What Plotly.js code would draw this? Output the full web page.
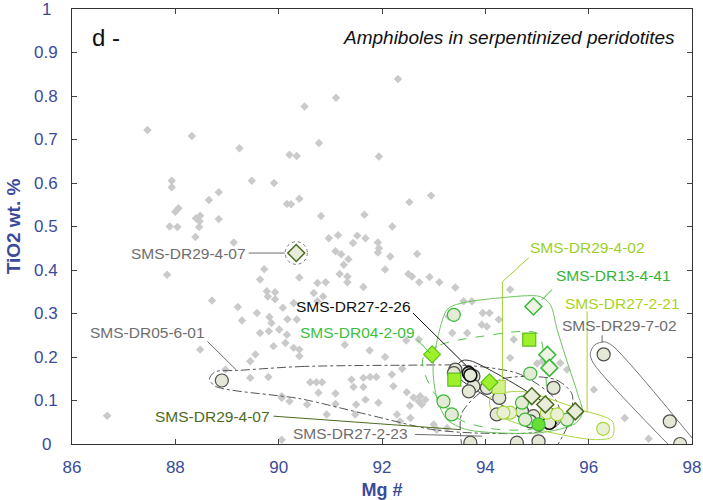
<!DOCTYPE html>
<html>
<head>
<meta charset="utf-8">
<script src="https://cdn.plot.ly/plotly-3.0.1.min.js"></script>
<style>
  html, body { margin: 0; padding: 0; background: #ffffff; }
  #chart { width: 703px; height: 500px; }
</style>
</head>
<body>
<div id="chart"></div>
<script>
// Background amphibole compilation (grey diamonds)
const bgMg = [92.31,91.11,90.50,87.46,88.32,89.24,90.78,90.21,90.35,91.94,87.93,87.93,89.48,89.91,88.84,88.65,90.16,90.24,90.40,92.53,
  92.95,88.06,88.00,88.40,88.48,88.84,87.89,88.04,88.46,88.47,90.82,91.66,92.20,88.39,89.13,90.97,91.15,91.52,91.68,91.44,
  91.92,91.94,91.92,91.10,91.21,91.35,92.16,92.68,91.26,87.84,89.72,89.64,90.40,91.18,91.33,91.33,92.06,92.51,92.58,92.72,
  92.92,93.11,93.42,90.75,90.91,89.77,89.93,89.79,89.93,90.68,90.86,90.75,91.64,88.71,89.21,90.08,90.29,89.58,89.82,89.86,
  90.17,90.35,89.29,89.64,89.81,90.01,90.16,88.48,89.90,90.13,90.29,90.40,90.40,91.28,91.76,89.55,92.47,92.71,88.97,89.45,
  89.45,89.80,90.61,90.73,90.84,90.77,91.10,91.41,91.64,91.77,91.89,91.64,91.45,92.19,92.39,92.22,92.48,92.61,92.71,92.77,
  92.84,92.54,92.74,91.93,91.68,91.50,91.48,91.10,90.93,90.55,90.06,90.21,92.29,92.35,92.55,86.68,93.00,93.06,93.26,93.29,
  93.58,93.74,93.65,94.48,93.95,94.08,94.26,93.93,94.03,93.36,94.55,94.48,95.00,95.10,95.30,95.45,95.58,96.10,92.06,90.06,
  90.06,96.70,97.16];
const bgTi = [0.839,0.796,0.776,0.722,0.708,0.680,0.692,0.665,0.662,0.661,0.605,0.590,0.605,0.600,0.579,0.561,0.552,0.551,0.564,0.556,
  0.571,0.542,0.534,0.519,0.525,0.517,0.500,0.499,0.499,0.512,0.524,0.527,0.500,0.476,0.463,0.473,0.480,0.479,0.473,0.462,
  0.463,0.450,0.440,0.443,0.436,0.425,0.431,0.437,0.412,0.389,0.402,0.378,0.383,0.391,0.385,0.372,0.401,0.391,0.385,0.372,
  0.384,0.372,0.360,0.370,0.372,0.351,0.349,0.339,0.333,0.347,0.339,0.328,0.361,0.330,0.315,0.313,0.324,0.301,0.292,0.278,
  0.287,0.286,0.284,0.255,0.259,0.263,0.251,0.217,0.225,0.232,0.221,0.217,0.202,0.228,0.215,0.206,0.238,0.240,0.171,0.190,
  0.152,0.154,0.142,0.142,0.142,0.118,0.116,0.148,0.152,0.154,0.154,0.131,0.131,0.160,0.173,0.133,0.119,0.107,0.098,0.091,
  0.102,0.088,0.110,0.095,0.102,0.091,0.068,0.092,0.068,0.091,0.110,0.098,0.068,0.052,0.060,0.065,0.045,0.033,0.037,0.293,
  0.328,0.328,0.255,0.355,0.301,0.301,0.286,0.274,0.270,0.255,0.240,0.198,0.185,0.190,0.182,0.186,0.171,0.125,0.200,0.106,
  0.010,0.060,0.012];

// Studied samples
const dr2907Mg = [90.34, 94.90, 95.16, 95.74];          // SMS-DR29-4-07 diamonds
const dr2907Ti = [0.439, 0.110, 0.091, 0.075];
const greyCircMg = [88.90, 93.42, 93.39, 93.77, 93.77, 93.68, 94.03, 94.27, 94.22, 94.71, 94.93, 94.87, 95.32, 93.71, 94.61, 95.03, 96.29, 97.57, 97.77];
const greyCircTi = [0.146, 0.171, 0.163, 0.156, 0.133, 0.121, 0.129, 0.106, 0.068, 0.075, 0.064, 0.052, 0.129, 0.003, 0.003, 0.006, 0.206, 0.052, 0.000];
const dr2226Mg = [93.68, 93.71, 95.24];                  // SMS-DR27-2-26
const dr2226Ti = [0.163, 0.158, 0.049];
const dr1341CircMg = [93.39, 94.87, 93.19, 93.35, 94.71, 94.77, 95.58];  // SMS-DR13-4-41
const dr1341CircTi = [0.297, 0.162, 0.098, 0.068, 0.095, 0.056, 0.056];
const dr1341DiaMg = [94.93, 95.20, 95.24];
const dr1341DiaTi = [0.316, 0.205, 0.175];
const dr0409SqMg = [93.40, 94.85];                       // SMS-DR04-2-09
const dr0409SqTi = [0.148, 0.240];
const dr0409DiaMg = [92.97, 94.08];
const dr0409DiaTi = [0.206, 0.142];
const dr2221CircMg = [94.48, 94.35, 95.19, 95.39, 96.28]; // SMS-DR27-2-21
const dr2221CircTi = [0.072, 0.072, 0.072, 0.068, 0.035];
const dr2221SqMg = [94.26];
const dr2221SqTi = [0.131];
const dr2402Mg = [95.03];                                // SMS-DR29-4-02
const dr2402Ti = [0.045];

// Axis ticks (y labels padded so they sit centred under the decimals)
const xTicks = [86, 88, 90, 92, 94, 96, 98];
const yTicks = [0, 0.1, 0.2, 0.3, 0.4, 0.5, 0.6, 0.7, 0.8, 0.9, 1];
const yTickText = ['0\u00a0\u200a', '0.1', '0.2', '0.3', '0.4', '0.5', '0.6', '0.7', '0.8', '0.9', '1\u00a0\u200a'];

// Sample envelopes (Mg #, TiO2)
const env0601 = [[89.19,0.169],[90.42,0.178],[92.35,0.181],[93.71,0.180],[94.68,0.160],[95.36,0.102],[95.45,0.056],[95.06,0.029],
  [93.90,0.025],[92.99,0.033],[91.71,0.068],[90.42,0.104],[88.77,0.133],[88.66,0.150],[88.77,0.166],[89.19,0.169]];
const env2702 = [[97.78,-0.030],[96.09,0.186],[96.03,0.208],[96.12,0.228],[96.30,0.235],[96.47,0.225],[98.2,-0.015]];
const env1341 = [[93.26,0.309],[92.99,0.179],[93.07,0.102],[93.26,0.056],[93.65,0.033],[95.06,0.026],[95.74,0.047],[95.88,0.072],
  [95.78,0.118],[95.59,0.187],[95.39,0.263],[95.26,0.320],[95.06,0.339],[94.29,0.336],[93.51,0.323],[93.26,0.309]];
const env0409 = [[92.80,0.199],[93.13,0.228],[93.90,0.247],[95.01,0.254],[95.14,0.194],[95.18,0.114],[95.06,0.042],[94.29,0.033],
  [93.51,0.056],[93.03,0.114],[92.80,0.171],[92.80,0.199]];
const env2226 = [[93.42,0.175],[93.56,0.192],[93.75,0.190],[95.36,0.075],[95.45,0.052],[95.26,0.033],[95.06,0.042],[93.48,0.153],[93.42,0.175]];
const env2223 = [[93.55,-0.01],[93.55,0.072],[94.29,0.148],[95.36,0.148],[95.68,0.114],[95.60,0.045],[95.36,-0.01]];
const env2221 = [[94.10,0.107],[94.68,0.121],[95.84,0.079],[96.46,0.052],[96.46,0.017],[96.13,0.010],[94.87,0.038],[94.13,0.075],[94.10,0.107]];

// Sample names, leader lines and label anchors
const labels = [
  {t:'SMS-DR29-4-07', x:89.40, y:0.439, a:'right', c:'#6e6e6e', l:[[89.42,0.439],[90.12,0.439]]},
  {t:'SMS-DR05-6-01', x:88.62, y:0.256, a:'right', c:'#6e6e6e', l:[[88.62,0.236],[89.19,0.169]]},
  {t:'SMS-DR27-2-26', x:92.60, y:0.316, a:'right', c:'#111111', l:[[92.60,0.301],[93.64,0.179]]},
  {t:'SMS-DR04-2-09', x:92.67, y:0.256, a:'right', c:'#3cbf3c', l:[[92.68,0.240],[92.93,0.209]]},
  {t:'SMS-DR29-4-07', x:89.88, y:0.064, a:'right', c:'#4d6b1f', l:[[89.90,0.064],[93.52,0.033]]},
  {t:'SMS-DR27-2-23', x:92.55, y:0.024, a:'right', c:'#6e6e6e', l:[[92.64,0.022],[93.94,0.018]]},
  {t:'SMS-DR29-4-02', x:94.83, y:0.451, a:'left', c:'#9ad12a', l:[[94.84,0.428],[94.33,0.373],[94.33,0.148]]},
  {t:'SMS-DR13-4-41', x:95.32, y:0.387, a:'left', c:'#33b533', l:[[95.29,0.355],[95.10,0.332]]},
  {t:'SMS-DR27-2-21', x:95.51, y:0.323, a:'left', c:'#a8d41e', l:[[95.97,0.305],[95.97,0.072]]},
  {t:'SMS-DR29-7-02', x:95.45, y:0.272, a:'left', c:'#6e6e6e', l:[[96.26,0.250],[96.26,0.233]]}
];

const FONT = 'Liberation Sans, Arial, sans-serif';
const AXIS_BLUE = '#3b4b9b';

function envTrace(pts, color, dash) {
  return {x: pts.map(p => p[0]), y: pts.map(p => p[1]), mode: 'lines', type: 'scatter',
    line: {color: color, width: 1, dash: dash, shape: 'spline', smoothing: 0.8},
    hoverinfo: 'skip', showlegend: false};
}
function markTrace(xs, ys, symbol, fill, edge, w) {
  return {x: xs, y: ys, mode: 'markers', type: 'scatter',
    marker: {symbol: symbol, size: 13, color: fill, line: {color: edge, width: w || 1.2}},
    hoverinfo: 'skip', showlegend: false, cliponaxis: true};
}

const traces = [
  {x: bgMg, y: bgTi, mode: 'markers', type: 'scatter',
   marker: {symbol: 'diamond', size: 6.5, color: '#cacaca'}, hoverinfo: 'skip', showlegend: false},
  envTrace(env0601, '#555555', 'dashdot'),
  envTrace(env2702, '#777777', 'solid'),
  envTrace(env1341, '#6cc45c', 'solid'),
  envTrace(env0409, '#55c24a', 'dash'),
  envTrace(env2226, '#333333', 'solid'),
  envTrace(env2223, '#555555', 'dashdot'),
  envTrace(env2221, '#a9d640', 'solid'),
  markTrace(greyCircMg, greyCircTi, 'circle', '#e4e9d6', '#4f4f4f'),
  markTrace(dr2226Mg, dr2226Ti, 'circle', '#e4e9d6', '#111111', 1.6),
  markTrace(dr1341CircMg, dr1341CircTi, 'circle', '#e4ecd6', '#38b838'),
  markTrace(dr1341DiaMg, dr1341DiaTi, 'diamond', '#eef3e4', '#38b838', 1.5),
  markTrace(dr2221CircMg, dr2221CircTi, 'circle', '#eaf0d2', '#a6d63a'),
  markTrace(dr2221SqMg, dr2221SqTi, 'square', '#d4f08a', '#a6d63a'),
  markTrace(dr0409SqMg, dr0409SqTi, 'square', '#9ef02a', '#5cbf1c'),
  markTrace(dr0409DiaMg, dr0409DiaTi, 'diamond', '#9ef02a', '#5cbf1c'),
  markTrace(dr2402Mg, dr2402Ti, 'circle', '#66e033', '#3cb83c'),
  markTrace(dr2907Mg, dr2907Ti, 'diamond', '#e8eddb', '#4d6b1f', 1.5)
];

// leader lines drawn as (poly)lines in data space
const shapes = labels.map(L => ({type: 'path', xref: 'x', yref: 'y',
  path: L.l.map((p, i) => (i ? 'L' : 'M') + p[0] + ',' + p[1]).join(' '), line: {color: L.c, width: 1}}));
// dashed ring round the isolated SMS-DR29-4-07 grain
shapes.push({type: 'circle', xref: 'x', yref: 'y',
  x0: dr2907Mg[0] - 0.215, x1: dr2907Mg[0] + 0.215, y0: dr2907Ti[0] - 0.026, y1: dr2907Ti[0] + 0.026,
  line: {color: '#777777', width: 1, dash: 'dot'}});

const annotations = labels.map(L => ({x: L.x, y: L.y, xref: 'x', yref: 'y', text: L.t, showarrow: false,
  xanchor: L.a, yanchor: 'middle', font: {family: FONT, size: 15.5, color: L.c}}));
annotations.push({x: 0.029, y: 0.935, xref: 'paper', yref: 'paper', text: 'd -', showarrow: false,
  xanchor: 'left', yanchor: 'middle', font: {family: FONT, size: 24, color: '#111111'}});
annotations.push({x: 0.976, y: 0.935, xref: 'paper', yref: 'paper', text: '<i>Amphiboles in serpentinized peridotites</i>',
  showarrow: false, xanchor: 'right', yanchor: 'middle', font: {family: FONT, size: 19, color: '#111111'}});

const axisCommon = {showgrid: false, zeroline: false, showline: true, linecolor: '#333333', linewidth: 1,
  mirror: 'ticks', ticks: 'inside', ticklen: 5, tickcolor: '#444444', tickwidth: 1, ticklabeloverflow: 'allow',
  tickfont: {family: FONT, size: 17, color: AXIS_BLUE}, automargin: false};

const layout = {
  width: 703, height: 500,
  margin: {l: 72, r: 11, t: 9, b: 56},
  paper_bgcolor: '#ffffff', plot_bgcolor: '#ffffff',
  xaxis: Object.assign({}, axisCommon, {range: [86, 98], tickmode: 'array', tickvals: xTicks, ticklabelstandoff: 8,
    title: {text: '<b>Mg #</b>', font: {family: FONT, size: 18, color: AXIS_BLUE}, standoff: 6}}),
  yaxis: Object.assign({}, axisCommon, {range: [0, 1], tickmode: 'array', tickvals: yTicks, ticktext: yTickText,
    ticklabelstandoff: 10,
    title: {text: '<b>TiO2 wt. %</b>', font: {family: FONT, size: 19, color: AXIS_BLUE}, standoff: 8}}),
  shapes: shapes,
  annotations: annotations
};

Plotly.newPlot('chart', traces, layout, {displayModeBar: false, staticPlot: true});
</script>
</body>
</html>
